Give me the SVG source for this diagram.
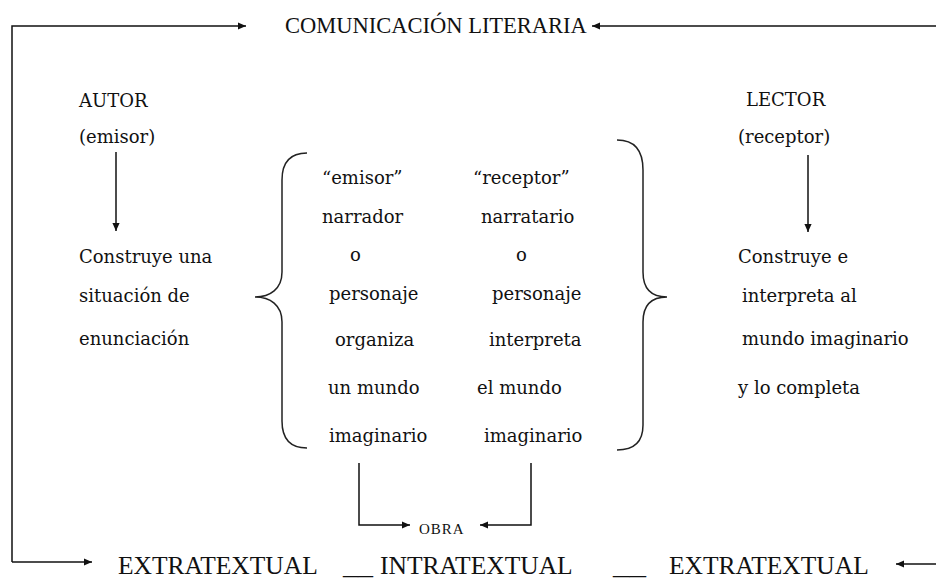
<svg xmlns="http://www.w3.org/2000/svg" width="936" height="581" viewBox="0 0 936 581">
<defs>
<marker id="ah" viewBox="0 0 10 10" refX="10" refY="5" markerWidth="8" markerHeight="8" markerUnits="userSpaceOnUse" orient="auto">
<path d="M0,0.5 L10,5 L0,9.5 Z" fill="#111"/>
</marker>
<style>
.ln{fill:none;stroke:#111;stroke-width:1.5}
.br{fill:none;stroke:#222;stroke-width:1.5}
.t{font-family:"DejaVu Serif","Liberation Serif",serif;font-size:18px;fill:#111}
.cap{font-family:"Liberation Serif","Times New Roman",serif;fill:#111}
</style>
</defs>
<rect width="936" height="581" fill="#fff"/>
<g id="connectors">
<path class="ln" d="M12,562 L12,26 L246,26" marker-end="url(#ah)"/>
<path class="ln" d="M936,26 L592,26" marker-end="url(#ah)"/>
<path class="ln" d="M12,562 L92,562" marker-end="url(#ah)"/>
<path class="ln" d="M936,564 L896,564" marker-end="url(#ah)"/>
<path class="ln" d="M116,152 L116,231" marker-end="url(#ah)"/>
<path class="ln" d="M808,155 L808,232" marker-end="url(#ah)"/>
<path class="ln" d="M359,463 L359,525 L410,525" marker-end="url(#ah)"/>
<path class="ln" d="M531,463 L531,525 L480,525" marker-end="url(#ah)"/>
</g>
<g id="titulo">
<text class="cap" x="285" y="33" font-size="22.5">COMUNICACIÓN LITERARIA</text>
</g>
<g id="autor">
<text class="t" x="79" y="107">AUTOR</text>
<text class="t" x="79" y="143">(emisor)</text>
</g>
<g id="autor-construye">
<text class="t" x="79" y="263">Construye una</text>
<text class="t" x="79" y="302">situación  de</text>
<text class="t" x="79" y="345">enunciación</text>
</g>
<g id="lector">
<text class="t" x="746" y="106">LECTOR</text>
<text class="t" x="738" y="143">(receptor)</text>
</g>
<g id="lector-construye">
<text class="t" x="738" y="263">Construye e</text>
<text class="t" x="742" y="302">interpreta al</text>
<text class="t" x="742" y="345">mundo imaginario</text>
<text class="t" x="738" y="394">y lo completa</text>
</g>
<g id="obra-interna">
<path class="br" d="M307,153 C290,153 282,162 282,180 L282,272 C282,289 270,297 255,297 C270,297 282,305 282,322 L282,421 C282,439 290,448 307,448"/>
<path class="br" d="M617,140 C635,140 643,150 643,170 L643,272 C643,289 652,297 667,297 C652,297 643,305 643,322 L643,425 C643,441 635,450 617,450"/>
<text class="t" x="322" y="184">“emisor”</text>
<text class="t" x="322" y="223">narrador</text>
<text class="t" x="350" y="261">o</text>
<text class="t" x="329" y="300">personaje</text>
<text class="t" x="335" y="346">organiza</text>
<text class="t" x="328" y="394">un mundo</text>
<text class="t" x="329" y="442">imaginario</text>
<text class="t" x="473" y="184">“receptor”</text>
<text class="t" x="481" y="223">narratario</text>
<text class="t" x="516" y="261">o</text>
<text class="t" x="492" y="300">personaje</text>
<text class="t" x="489" y="346">interpreta</text>
<text class="t" x="477" y="394">el mundo</text>
<text class="t" x="484" y="442">imaginario</text>
</g>
<g id="obra">
<text class="cap" x="419" y="534" font-size="15" letter-spacing="1">OBRA</text>
</g>
<g id="niveles">
<text class="cap" x="118" y="574" font-size="25.5">EXTRATEXTUAL</text>
<text class="cap" x="343" y="574" font-size="25.5" textLength="30" lengthAdjust="spacingAndGlyphs">__</text>
<text class="cap" x="380" y="574" font-size="25.5">INTRATEXTUAL</text>
<text class="cap" x="613" y="574" font-size="25.5" textLength="33" lengthAdjust="spacingAndGlyphs">__</text>
<text class="cap" x="669" y="574" font-size="25.5">EXTRATEXTUAL</text>
</g>
</svg>
